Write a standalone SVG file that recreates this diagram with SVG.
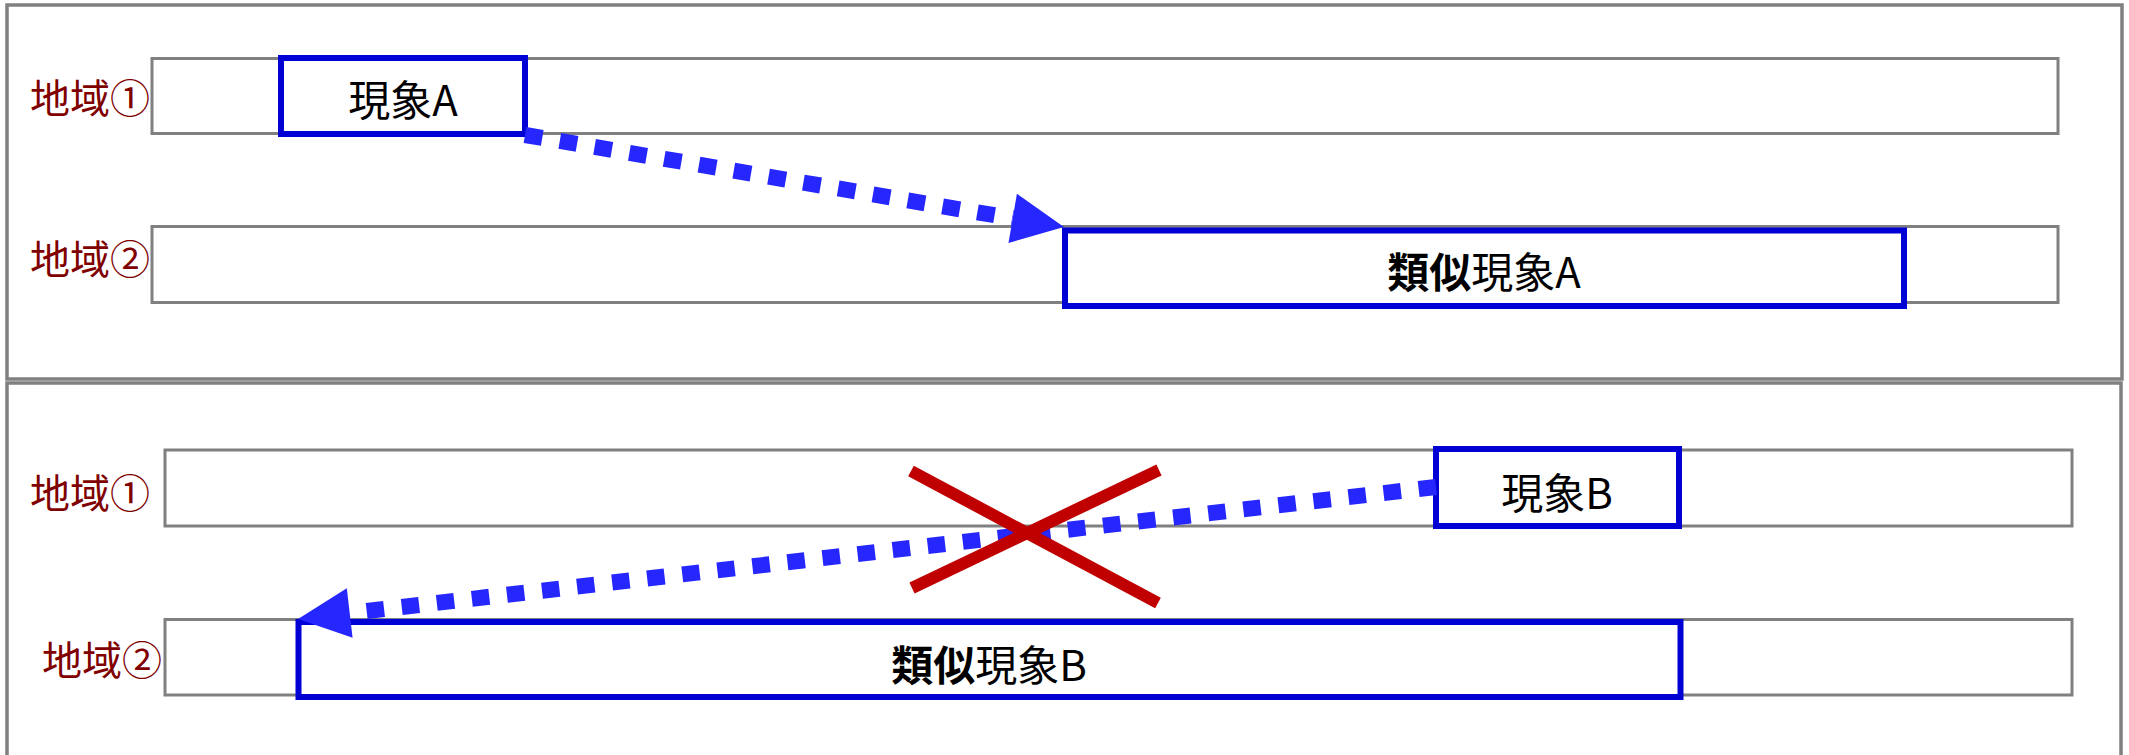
<svg xmlns="http://www.w3.org/2000/svg" width="2129" height="755" viewBox="0 0 2129 755">
<style>
.panel{fill:none;stroke:#808080;stroke-width:3.5}
.row{fill:#fff;stroke:#808080;stroke-width:3}
.box{fill:#fff;stroke:#0000D4;stroke-width:6}
.lbl{font-family:"Noto Sans CJK JP","Noto Sans",sans-serif;font-size:40px;fill:#800000}
.txt{font-family:"Noto Sans CJK JP","Noto Sans",sans-serif;font-size:42px;fill:#000;text-anchor:middle}
.b{font-weight:bold}
.flow{fill:none;stroke:#2626FF;stroke-width:16;stroke-dasharray:17.5 17.8;marker-end:url(#ah)}
.cross{stroke:#C00000;stroke-width:12;fill:none}
</style>
<defs>
<marker id="ah" markerUnits="userSpaceOnUse" markerWidth="54" markerHeight="52" refX="0" refY="25" orient="auto" overflow="visible">
<path d="M0,0 L52,25 L0,50 Z" fill="#2626FF"/>
</marker>
</defs>
<rect width="2129" height="755" fill="#fff"/>
<g id="panel-top">
<rect class="panel" x="7" y="5" width="2115" height="374"/>
</g>
<g id="panel-bottom">
<rect class="panel" x="7" y="383" width="2114" height="380"/>
</g>
<g id="top-row1">
<rect class="row" x="152" y="58.5" width="1906" height="75"/>
<text class="lbl" x="30" y="113">地域①</text>
</g>
<g id="top-row2">
<rect class="row" x="152" y="226.5" width="1906" height="76"/>
<text class="lbl" x="30" y="274">地域②</text>
</g>
<g id="bottom-row1">
<rect class="row" x="165" y="450" width="1907" height="76"/>
<text class="lbl" x="30" y="508">地域①</text>
</g>
<g id="bottom-row2">
<rect class="row" x="165" y="619.5" width="1907" height="75.5"/>
<text class="lbl" x="42" y="675">地域②</text>
</g>
<g id="phenomenonA">
<rect class="box" x="281" y="58" width="244" height="76"/>
<text class="txt" x="403" y="116">現象A</text>
</g>
<g id="similarA">
<rect class="box" x="1065" y="230.5" width="839" height="75.5"/>
<text class="txt" x="1484" y="288"><tspan class="b">類似</tspan>現象A</text>
</g>
<g id="phenomenonB">
<rect class="box" x="1436" y="449" width="243" height="77"/>
<text class="txt" x="1557" y="509">現象B</text>
</g>
<g id="similarB">
<rect class="box" x="298.5" y="622" width="1382" height="75"/>
<text class="txt" x="989" y="681"><tspan class="b">類似</tspan>現象B</text>
</g>
<g id="connectors">
<line class="flow" x1="525" y1="135" x2="1012.7" y2="218.3"/>
<line class="flow" x1="1436" y1="487" x2="349.7" y2="613"/>
</g>
<g id="cross">
<line class="cross" x1="911" y1="471" x2="1158" y2="603"/>
<line class="cross" x1="912" y1="588" x2="1159" y2="470"/>
</g>
</svg>
